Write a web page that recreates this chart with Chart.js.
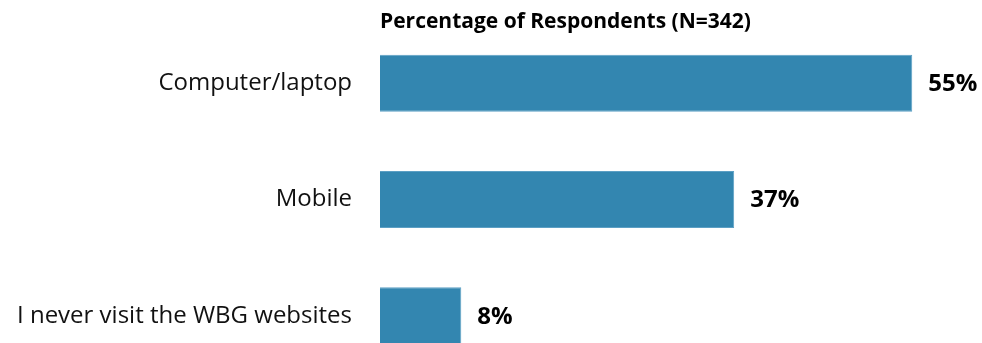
<!DOCTYPE html>
<html>
<head>
<meta charset="utf-8">
<script src="https://cdn.jsdelivr.net/npm/chart.js@4/dist/chart.umd.min.js"></script>
<style>
  html, body { margin: 0; padding: 0; background: #fff; overflow: hidden; }
  .wrap { width: 982px; height: 343px; overflow: hidden; }
  .box { position: relative; width: 982px; height: 375px; }
</style>
</head>
<body>
<div class="wrap"><div class="box"><canvas id="myChart"></canvas></div></div>
<script>
const categories = ['Computer/laptop', 'Mobile', 'I never visit the WBG websites'];
const percentValues = [55.0, 36.6, 8.4];
const valueLabels = ['55%', '37%', '8%'];
const chartTitle = 'Percentage of Respondents (N=342)';

// title drawn above the plot area, left aligned with the bars
const titlePlugin = {
    id: 'leftTitle',
    afterDraw(chart) {
        const ctx = chart.ctx;
        ctx.save();
        ctx.font = 'bold 21px "Open Sans"';
        ctx.fillStyle = '#000';
        ctx.textAlign = 'left';
        ctx.textBaseline = 'middle';
        ctx.fillText(chartTitle, chart.chartArea.left, 22);
        ctx.restore();
    }
};

// percentage labels at the end of each bar
const valuePlugin = {
    id: 'barValues',
    afterDatasetsDraw(chart) {
        const ctx = chart.ctx;
        const meta = chart.getDatasetMeta(0);
        ctx.save();
        ctx.font = 'bold 24px "Open Sans"';
        ctx.fillStyle = '#000';
        ctx.textAlign = 'left';
        ctx.textBaseline = 'middle';
        meta.data.forEach((bar, i) => {
            ctx.fillText(valueLabels[i], bar.x + 16, bar.y + 1);
        });
        ctx.restore();
    }
};

const ctx = document.getElementById('myChart').getContext('2d');
const myChart = new Chart(ctx, {
    type: 'bar',
    data: {
        labels: categories,
        datasets: [{
            data: percentValues,
            backgroundColor: '#3386B0',
            borderColor: '#5c9fc4',
            borderWidth: 1,
            categoryPercentage: 1,
            barPercentage: 0.49
        }]
    },
    options: {
        indexAxis: 'y',
        responsive: true,
        maintainAspectRatio: false,
        animation: false,
        layout: { padding: { top: 25, right: 2, bottom: 1, left: 0 } },
        plugins: {
            legend: { display: false },
            tooltip: { enabled: false }
        },
        scales: {
            x: {
                min: 0,
                max: 62,
                display: false
            },
            y: {
                grid: { display: false },
                border: { display: false },
                ticks: {
                    color: '#111',
                    padding: 20,
                    font: { family: 'Open Sans', size: 24 }
                },
                // fixed label column, no extra space for half label heights
                afterFit(scale) {
                    scale.width = 380;
                    scale.paddingTop = 0;
                    scale.paddingBottom = 0;
                }
            }
        }
    },
    plugins: [titlePlugin, valuePlugin]
});
</script>
</body>
</html>
